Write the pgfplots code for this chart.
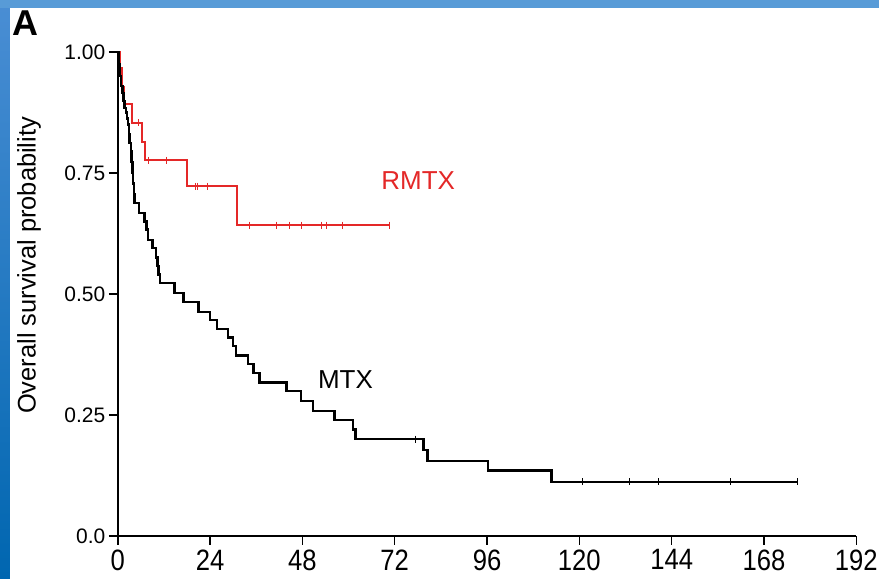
\documentclass[border=0pt]{standalone}
\usepackage{fontspec}
\setmainfont{Liberation Sans}
\newfontfamily\narrowfont[FakeStretch=0.87]{Liberation Sans}
\usepackage{pgfplots}
\pgfplotsset{compat=1.18}
\definecolor{kmred}{RGB}{228,40,40}
\definecolor{bluetop}{RGB}{88,155,215}
\definecolor{blueleft}{RGB}{74,142,212}
\definecolor{bluebot}{RGB}{0,102,176}

\begin{document}
\begin{tikzpicture}
% frame of the slide
\fill[white] (-118pt,-43pt) rectangle (763pt,537pt);
\shade[top color=blueleft, bottom color=bluebot] (-118pt,-43pt) rectangle (-108pt,537pt);
\fill[bluetop] (-118pt,529pt) rectangle (763pt,537pt);
\begin{axis}[
    at={(0,0)}, anchor=south west,
    scale only axis, width=740pt, height=485pt,
    xmin=0, xmax=192, ymin=0, ymax=1,
    axis x line=bottom, axis y line=left,
    axis line style={-, line width=1.8pt},
    xtick={0,24,...,192},
    xticklabels={0,24,48,72,96,120,144,168,192},
    ytick={0,0.25,0.5,0.75,1},
    yticklabels={0.0,0.25,0.50,0.75,1.00},
    tick align=outside, major tick length=9pt,
    tick style={line width=1.5pt, black},
    xticklabel style={font=\narrowfont\fontsize{29.5}{29.5}\selectfont, yshift=-1pt},
    yticklabel style={font=\fontsize{21}{21}\selectfont},
    ylabel={Overall survival probability},
    ylabel style={font=\fontsize{25.5}{25.5}\selectfont,
                  at={(axis description cs:-0.12,0.559)}, anchor=center},
    clip=false,
]
  %% RMTX
  \addplot[kmred, line width=2pt, const plot, mark=none] coordinates {
    (0,1) (0.7,0.966) (1.2,0.928) (1.6,0.892) (3.6,0.854) (6.4,0.814)
    (7.0,0.776) (18.0,0.722) (31.0,0.642) (70.5,0.642)};
  \addplot[kmred, only marks, mark=|, mark size=3.5pt, mark options={line width=0.9pt}] coordinates {
    (5.4,0.854) (8.1,0.776) (12.6,0.776) (20.2,0.722) (20.8,0.722) (23.3,0.722)
    (34.2,0.642) (41.2,0.642) (44.6,0.642) (47.7,0.642) (52.9,0.642) (54.2,0.642)
    (58.5,0.642) (70.5,0.642)};
  %% MTX
  \addplot[black, line width=2.4pt, const plot, mark=none] coordinates {
    (0,1) (0.3,0.975) (0.6,0.950) (0.9,0.930) (1.2,0.915) (1.5,0.898)
    (1.8,0.884) (2.1,0.875) (2.4,0.862) (2.7,0.850) (2.9,0.830) (3.1,0.812)
    (3.4,0.795) (3.6,0.772) (3.8,0.750) (4.0,0.728) (4.2,0.707) (4.4,0.688)
    (5.5,0.667) (7.0,0.650) (7.5,0.633) (7.9,0.612) (9.0,0.595) (9.9,0.575)
    (10.3,0.558) (10.6,0.540) (11.0,0.522) (14.8,0.502) (17.1,0.483)
    (21.0,0.463) (23.9,0.446) (25.8,0.427) (28.6,0.410) (29.9,0.392)
    (30.8,0.373) (33.8,0.355) (35.3,0.336) (36.8,0.317) (43.9,0.300)
    (47.7,0.279) (50.7,0.258) (56.3,0.239) (61.2,0.220) (61.8,0.200)
    (79.5,0.178) (80.5,0.155) (96.3,0.135) (112.8,0.112) (176.8,0.112)};
  \addplot[black, only marks, mark=|, mark size=3.5pt, mark options={line width=0.9pt}] coordinates {
    (77.5,0.200) (120.9,0.112) (133.0,0.112) (140.6,0.112) (159.4,0.112) (176.8,0.112)};
  \node[kmred, font=\fontsize{26}{26}\selectfont] at (axis cs:78.1,0.734) {RMTX};
  \node[black, font=\fontsize{26}{26}\selectfont] at (axis cs:59.2,0.324) {MTX};
\end{axis}
\node[font=\bfseries\fontsize{36}{36}\selectfont] at (-92pt,514pt) {A};
\end{tikzpicture}
\end{document}
